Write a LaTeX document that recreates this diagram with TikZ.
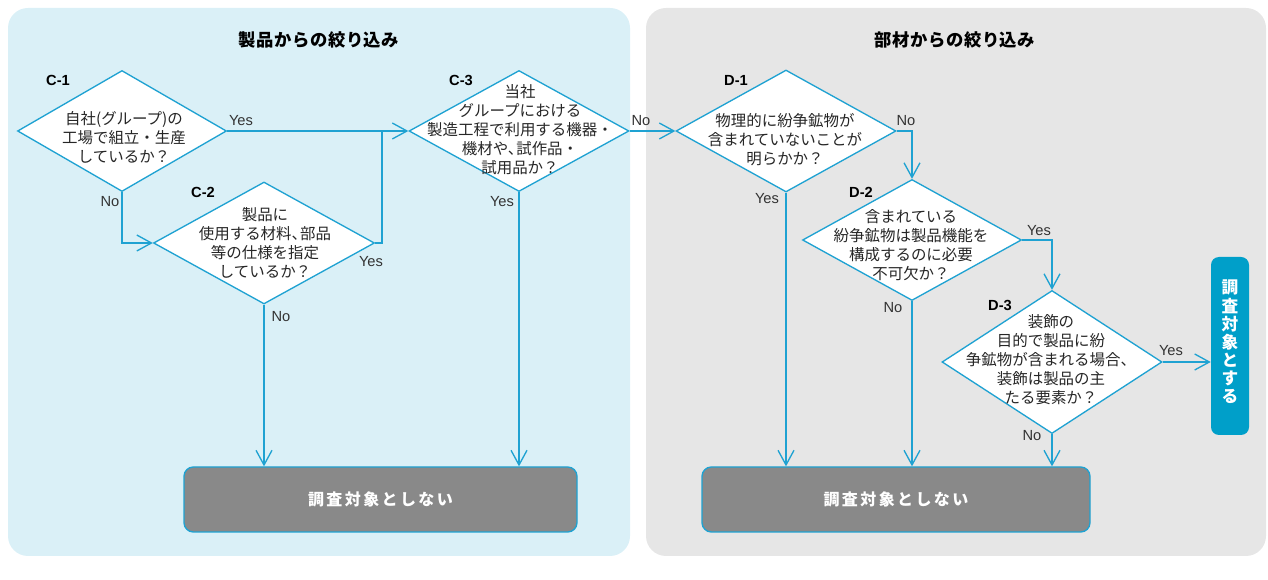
\documentclass[tikz,border=0pt]{standalone}
\usepackage{fontspec}
\setmainfont{Noto Sans CJK JP}
\newfontfamily\lat{Liberation Sans}
\usetikzlibrary{shapes.geometric,arrows.meta}
\definecolor{lineblue}{HTML}{1FA2D2}
\definecolor{panelblue}{HTML}{DAF0F7}
\definecolor{panelgray}{HTML}{E6E6E6}
\definecolor{boxgray}{HTML}{898989}
\definecolor{boxblue}{HTML}{009FC9}
\newcommand\hcomma{、\kern-0.45em}
\begin{document}
\begin{tikzpicture}[x=0.75pt,y=-0.75pt,
  dia/.style={diamond,draw=lineblue,fill=white,line width=1pt,inner sep=0pt},
  qtext/.style={align=center,font=\fontsize{11.6}{14.25}\selectfont,inner sep=0pt,text=black!85},
  tag/.style={font=\lat\bfseries\fontsize{11}{13}\selectfont,inner sep=0pt},
  yn/.style={font=\lat\fontsize{11}{13}\selectfont,inner sep=0pt,text=black!80},
  ttl/.style={font=\bfseries\fontsize{13}{15}\selectfont\addfontfeature{LetterSpace=3},inner sep=0pt},
  endbox/.style={draw=lineblue,line width=1pt,fill=boxgray,rounded corners=7pt,inner sep=0pt,
    text=white,font=\bfseries\fontsize{12}{14}\selectfont\addfontfeature{LetterSpace=15}},
  conn/.style={draw=lineblue,line width=1pt},
  arr/.style={conn,-{Straight Barb[length=11pt,width=12pt,line width=1pt]}}
]
\useasboundingbox (0,0) rectangle (1268,580);
% panels
\fill[panelblue,rounded corners=15pt] (8,8) rectangle (630,556);
\fill[panelgray,rounded corners=15pt] (646,8) rectangle (1266,556);
\node[ttl] (t1) at (319,40) {製品からの絞り込み};
\node[ttl] (t2) at (955,40) {部材からの絞り込み};

% diamonds
\node[dia,minimum width=156.75pt,minimum height=90.75pt] (c1) at (122,131) {};
\node[dia,minimum width=165.75pt,minimum height=91.5pt] (c2) at (264,243) {};
\node[dia,minimum width=165pt,minimum height=90.75pt] (c3) at (519,131) {};
\node[dia,minimum width=165pt,minimum height=91.5pt] (d1) at (786,131) {};
\node[dia,minimum width=164.25pt,minimum height=90.75pt] (d2) at (912,240) {};
\node[dia,minimum width=165pt,minimum height=107.25pt] (d3) at (1052,362) {};

% diamond texts
\node[qtext] (c1t) at (124,137) {自社(グループ)の\\工場で組立・生産\\しているか？};
\node[qtext] (c2t) at (265,243) {製品に\\使用する材料\hcomma 部品\\等の仕様を指定\\しているか？};
\node[qtext] (c3t) at (520,130) {当社\\グループにおける\\製造工程で利用する機器・\\機材や\hcomma 試作品・\\試用品か？};
\node[qtext] (d1t) at (785,140) {物理的に紛争鉱物が\\含まれていないことが\\明らかか？};
\node[qtext] (d2t) at (911,245) {含まれている\\紛争鉱物は製品機能を\\構成するのに必要\\不可欠か？};
\node[qtext] (d3t) at (1051,360) {装飾の\\目的で製品に紛\\争鉱物が含まれる場合、\\装飾は製品の主\\たる要素か？};

% tags
\node[tag] (c1l) at (58,80) {C-1};
\node[tag] (c2l) at (203,192) {C-2};
\node[tag] (c3l) at (461,80) {C-3};
\node[tag] (d1l) at (736,80) {D-1};
\node[tag] (d2l) at (861,192) {D-2};
\node[tag] (d3l) at (1000,305) {D-3};

% end boxes
\node[endbox,minimum width=294.75pt,minimum height=48.75pt] (lbox) at (380.5,499.5) {調査対象としない};
\node[endbox,minimum width=291pt,minimum height=48.75pt] (rbox) at (896,499.5) {調査対象としない};
\node[fill=boxblue,rounded corners=6pt,minimum width=28.5pt,minimum height=133.5pt,inner sep=0pt] (tbox) at (1230,346) {};
\node[text=white,align=center,inner sep=0pt,font=\bfseries\fontsize{12.5}{13.6}\selectfont] (tboxt) at (1230,342) {調\\査\\対\\象\\と\\す\\る};

% connectors
\coordinate (j) at (382,131);
\draw[arr] (c1.east) -- (c3.west);
\draw[arr] (c1.south) |- (c2.west);
\draw[conn] (c2.east) -| (j);
\draw[arr] (c2.south) -- (c2.south |- lbox.north);
\draw[arr] (c3.south) -- (c3.south |- lbox.north);
\draw[arr] (c3.east) -- (d1.west);
\draw[arr] (d1.east) -| (d2.north);
\draw[arr] (d1.south) -- (d1.south |- rbox.north);
\draw[arr] (d2.east) -| (d3.north);
\draw[arr] (d2.south) -- (d2.south |- rbox.north);
\draw[arr] (d3.east) -- (d3.east -| tbox.west);
\draw[arr] (d3.south) -- (d3.south |- rbox.north);

% yes / no labels
\node[yn] (y1) at (241,121) {Yes};
\node[yn] (n1) at (110,202) {No};
\node[yn] (y2) at (371,262) {Yes};
\node[yn] (n2) at (281,317) {No};
\node[yn] (y3) at (502,202) {Yes};
\node[yn] (n3) at (641,121) {No};
\node[yn] (n4) at (906,121) {No};
\node[yn] (y4) at (767,199) {Yes};
\node[yn] (y5) at (1039,231) {Yes};
\node[yn] (n5) at (893,308) {No};
\node[yn] (y6) at (1171,351) {Yes};
\node[yn] (n6) at (1032,436) {No};
\end{tikzpicture}
\end{document}
